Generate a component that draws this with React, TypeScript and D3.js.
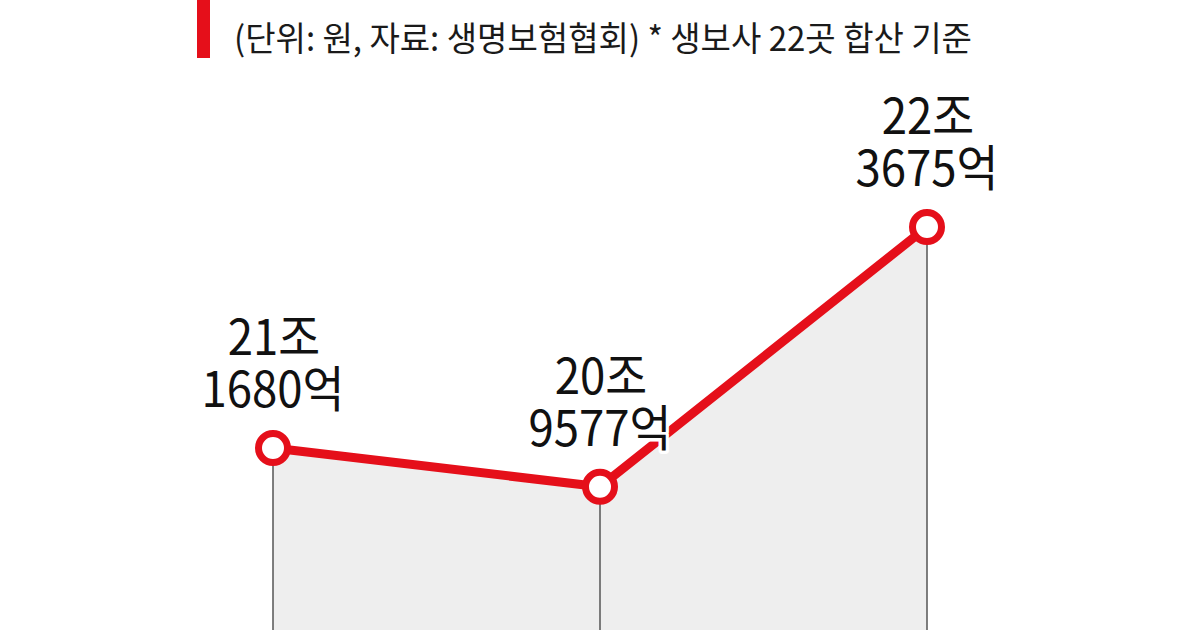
import React from "react";
import * as d3 from "d3";

const categories = ["A", "B", "C"];
const values = [211680, 209577, 223675]; // 억원
const labelTop = ["21조", "20조", "22조"];
const labelBottom = ["1680억", "9577억", "3675억"];
const subtitle = "(단위: 원, 자료: 생명보험협회) * 생보사 22곳 합산 기준";

const W = 1200;
const H = 630;
const RED = "#e50f1a";
const FONT = "'Noto Sans CJK KR', 'Noto Sans', sans-serif";

export default function App() {
  const x = d3.scalePoint<string>().domain(categories).range([273, 927]);
  const y = d3.scaleLinear().domain([200000, 225000]).range([663.2, 202.6]);

  const data = categories.map((c, i) => ({ c, v: values[i], i }));

  const line = d3
    .line<{ c: string; v: number }>()
    .x((d) => x(d.c)!)
    .y((d) => y(d.v));
  const area = d3
    .area<{ c: string; v: number }>()
    .x((d) => x(d.c)!)
    .y0(H)
    .y1((d) => y(d.v));

  return (
    <div style={{ position: "fixed", left: 0, top: 0, width: W, height: H, background: "#fff" }}>
      <svg width={W} height={H} viewBox={`0 0 ${W} ${H}`} style={{ display: "block" }}>
        <rect x={0} y={0} width={W} height={H} fill="#fff" />
        <rect x={197} y={0} width={13} height={58} fill={RED} />
        <text
          x={234}
          y={51}
          fontFamily={FONT}
          fontSize={34}
          fill="#1a1a1a"
          textLength={738}
          lengthAdjust="spacingAndGlyphs"
        >
          {subtitle}
        </text>

        <path d={area(data) || ""} fill="#eeeeee" />
        {data.map((d) => (
          <line
            key={"v" + d.c}
            x1={x(d.c)}
            x2={x(d.c)}
            y1={y(d.v)}
            y2={H}
            stroke="#555"
            strokeWidth={1.5}
          />
        ))}
        <path d={line(data) || ""} fill="none" stroke={RED} strokeWidth={9} strokeLinejoin="round" />

        {data.map((d) => {
          const cx = x(d.c)!;
          const cy = y(d.v);
          return (
            <g key={"l" + d.c} transform={`translate(${cx},${cy - 41}) scale(0.93,1)`}>
              <text
                fontFamily={FONT}
                fontSize={49}
                fill="#111"
                textAnchor="middle"
                stroke="#fff"
                strokeWidth={7}
                strokeLinejoin="round"
                style={{ paintOrder: "stroke" }}
              >
                <tspan x={1} y={-52}>{labelTop[d.i]}</tspan>
                <tspan x={0} y={0}>{labelBottom[d.i]}</tspan>
              </text>
            </g>
          );
        })}

        {data.map((d) => (
          <circle
            key={"c" + d.c}
            cx={x(d.c)}
            cy={y(d.v)}
            r={14.5}
            fill="#fff"
            stroke={RED}
            strokeWidth={7}
          />
        ))}
      </svg>
    </div>
  );
}
